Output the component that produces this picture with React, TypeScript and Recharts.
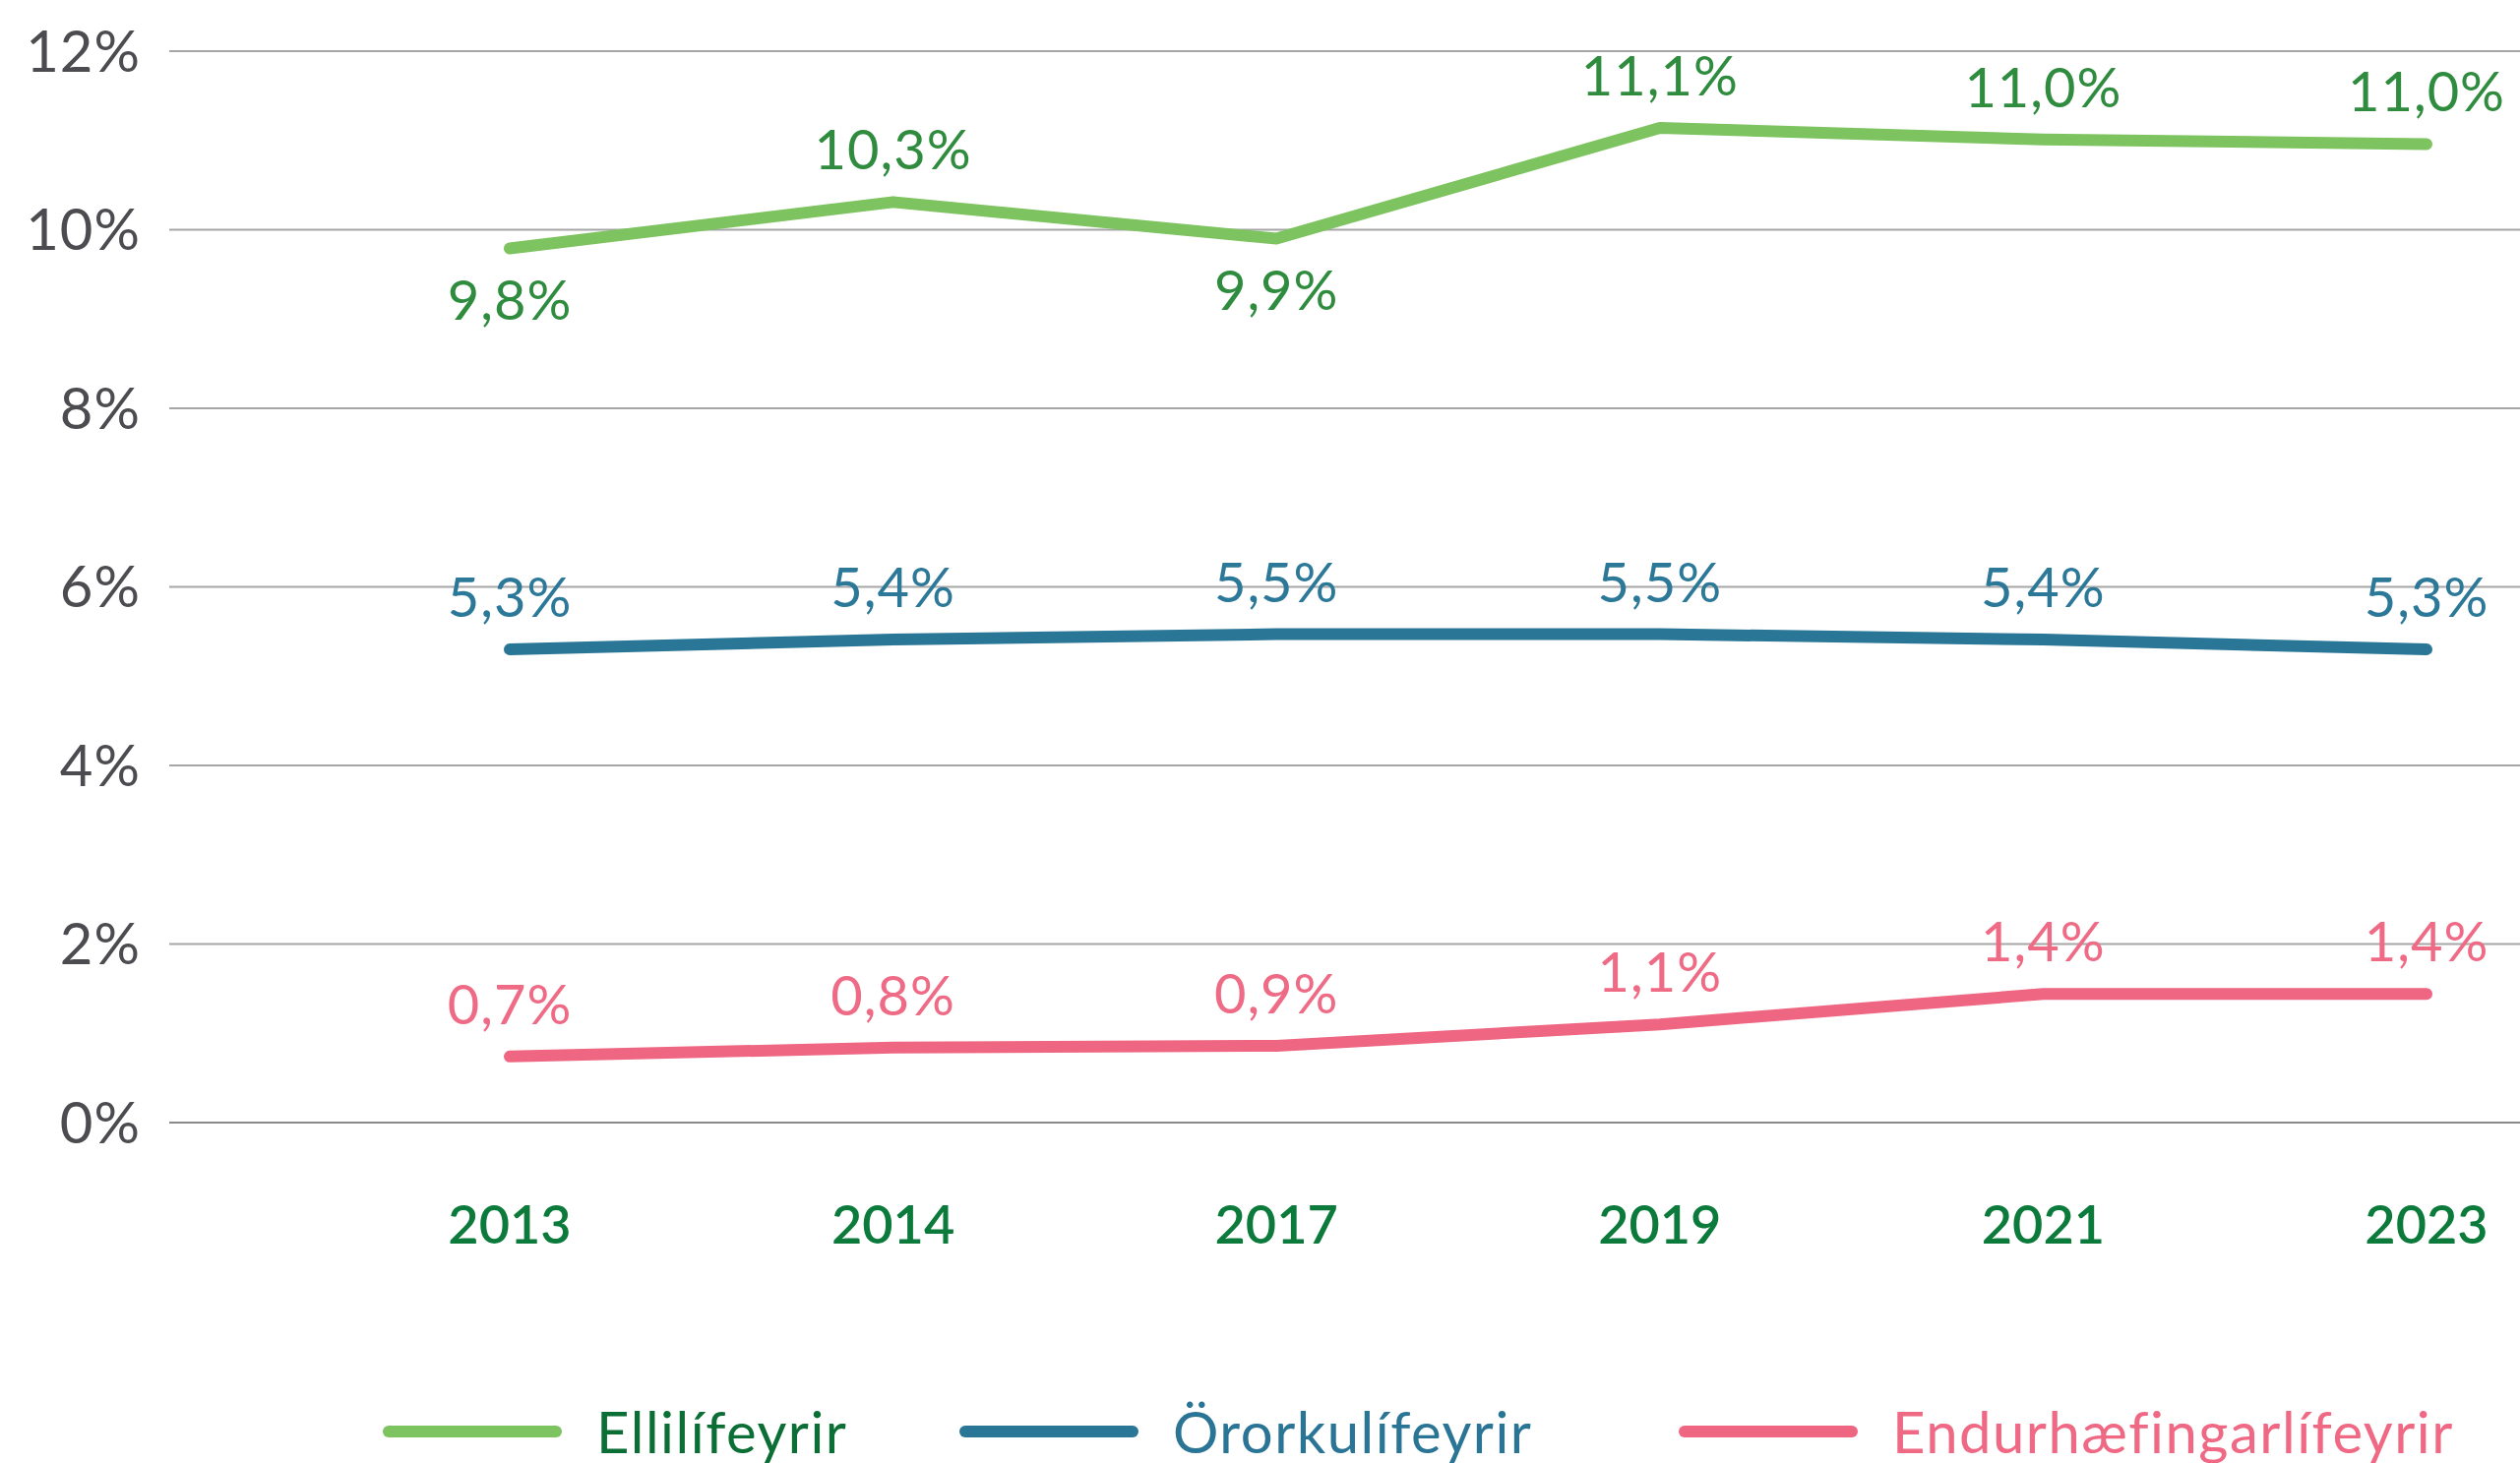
import { LineChart, Line, XAxis, YAxis, CartesianGrid, LabelList } from 'recharts';

const years = ['2013', '2014', '2017', '2019', '2021', '2023'];
const ellilifeyrir = [9.79, 10.31, 9.9, 11.14, 11.01, 10.96];
const ororkulifeyrir = [5.3, 5.41, 5.47, 5.47, 5.41, 5.3];
const endurhaefing = [0.74, 0.84, 0.86, 1.1, 1.44, 1.44];
const yTicks = [0, 2, 4, 6, 8, 10, 12];

const SERIES = [
  { key: 'elli', name: 'Ellilífeyrir', line: '#7dc35f', text: '#2f8c3f', legendText: '#0b6e35', below: [0, 2] },
  { key: 'oror', name: 'Örorkulífeyrir', line: '#2a7697', text: '#2c7898', legendText: '#2a7596', below: [] as number[] },
  { key: 'endu', name: 'Endurhæfingarlífeyrir', line: '#ee6682', text: '#ef6a85', legendText: '#ef6884', below: [] as number[] },
];

const data = years.map((y, i) => ({
  year: y,
  elli: ellilifeyrir[i],
  oror: ororkulifeyrir[i],
  endu: endurhaefing[i],
}));

const FONT = 'Lato, "Open Sans", sans-serif';
const pct = (v: number) => v.toFixed(1).replace('.', ',') + '%';

function makeLabel(color: string, below: number[]) {
  return (props: any) => {
    const { x, y, value, index } = props;
    const isBelow = below.includes(index);
    return (
      <text
        x={x}
        y={isBelow ? y + 72 : y - 33}
        textAnchor="middle"
        fill={color}
        fontSize={56}
        letterSpacing={1}
        fontFamily={FONT}
      >
        {pct(value)}
      </text>
    );
  };
}

function XTick({ x, y, payload }: any) {
  return (
    <text x={x} y={y + 123} textAnchor="middle" fill="#0b7a3b" fontSize={54} fontWeight={600} fontFamily={FONT}>
      {payload.value}
    </text>
  );
}

const legendLefts = [389, 975, 1706];

export default function App() {
  return (
    <div style={{ position: 'relative', width: 2561, height: 1487, background: '#fff' }}>
      <style>{`body{margin:0}`}</style>
      <LineChart width={2561} height={1300} data={data} margin={{ top: 52, right: 0, left: 0, bottom: 0 }}>
        <CartesianGrid vertical={false} stroke="#a6a6a6" strokeWidth={2} />
        <XAxis
          dataKey="year"
          padding={{ left: 346, right: 95 }}
          height={159}
          tickSize={0}
          tickMargin={0}
          axisLine={{ stroke: '#8a8a8a', strokeWidth: 2 }}
          tickLine={false}
          tick={<XTick />}
        />
        <YAxis
          domain={[0, 12]}
          ticks={yTicks}
          width={172}
          axisLine={false}
          tickLine={false}
          tickSize={0}
          tickMargin={29}
          tickFormatter={(v: number) => v + '%'}
          tick={{ fontSize: 58, fill: '#4b4b50', fontFamily: FONT, letterSpacing: 1 }}
        />
        {SERIES.map(s => (
          <Line
            key={s.key}
            dataKey={s.key}
            name={s.name}
            type="linear"
            stroke={s.line}
            strokeWidth={12}
            strokeLinecap="round"
            strokeLinejoin="round"
            dot={false}
            activeDot={false}
            isAnimationActive={false}
          >
            <LabelList dataKey={s.key} content={makeLabel(s.text, s.below)} />
          </Line>
        ))}
      </LineChart>
      {SERIES.map((s, i) => (
        <div
          key={s.key}
          style={{
            position: 'absolute',
            left: legendLefts[i],
            top: 1455,
            transform: 'translateY(-50%)',
            display: 'flex',
            alignItems: 'center',
            whiteSpace: 'nowrap',
          }}
        >
          <div style={{ width: 182, height: 12, borderRadius: 6, background: s.line }} />
          <span
            style={{
              marginLeft: 35,
              fontSize: 58,
              letterSpacing: 1.5,
              fontFamily: FONT,
              color: s.legendText,
              lineHeight: 1,
            }}
          >
            {s.name}
          </span>
        </div>
      ))}
    </div>
  );
}
